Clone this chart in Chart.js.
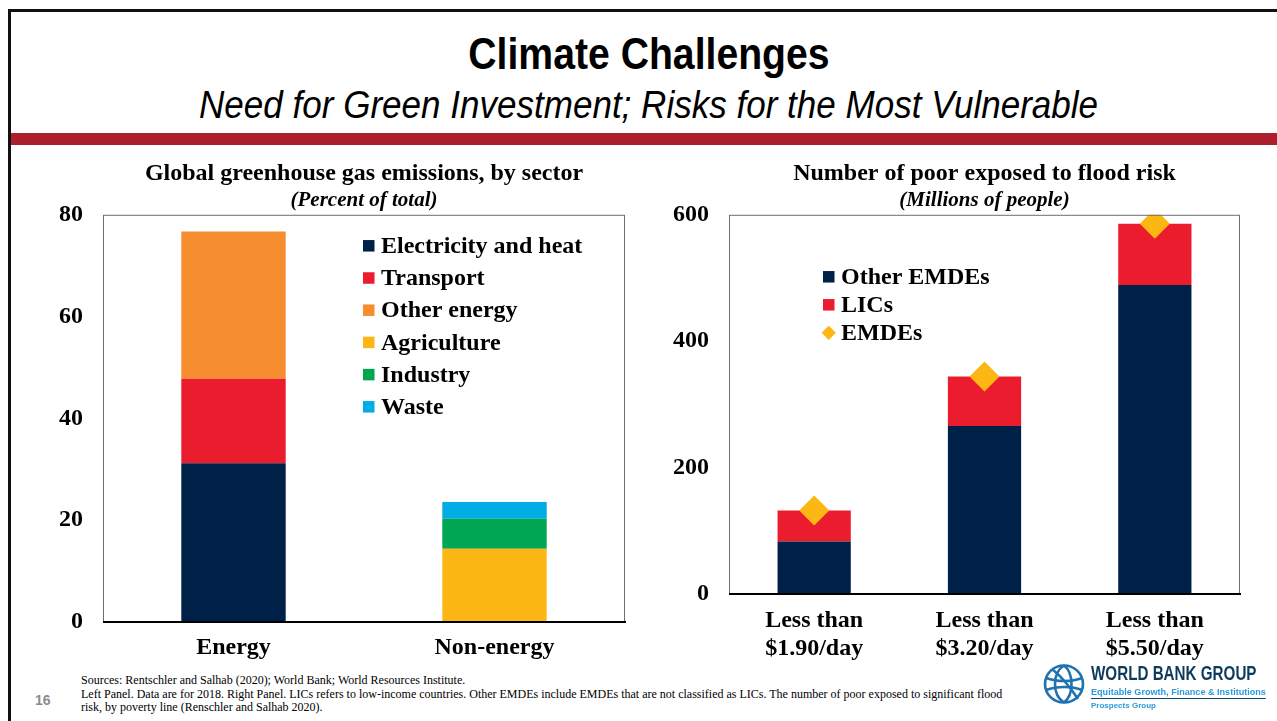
<!DOCTYPE html>
<html lang="en">
<head>
    <meta charset="UTF-8">
    <title>Climate Challenges</title>
    <script src="https://cdn.jsdelivr.net/npm/chart.js@4.4.1/dist/chart.umd.min.js"></script>
    <style>
        html, body { margin: 0; padding: 0; background: #fff; }
        body { width: 1277px; height: 721px; position: relative; overflow: hidden; }
        .frame-top { position: absolute; left: 8px; top: 9px; width: 1269px; height: 3px; background: #111; }
        .frame-left { position: absolute; left: 8px; top: 9px; width: 3px; height: 712px; background: #111; }
        .band { position: absolute; left: 11px; top: 133px; width: 1266px; height: 12px; background: #ac1f2d; }
        .title, .subtitle { position: absolute; left: 0; width: 1297px; text-align: center; color: #000;
            font-family: "Liberation Sans", Arial, sans-serif; }
        .title { top: 26px; font-weight: bold; font-size: 44px; line-height: 56px; }
        .subtitle { top: 81px; font-style: italic; font-size: 38px; line-height: 48px; }
        .title span, .subtitle span { display: inline-block; white-space: nowrap; }
        .title span { transform: scaleX(0.89); }
        .subtitle span { transform: scaleX(0.922); }
        .plot { position: absolute; top: 160px; height: 512px; }
        #boxL { left: 28px; width: 640px; }
        #boxR { left: 640px; width: 637px; }
        .notes {
            position: absolute; left: 81px; top: 674px; width: 930px;
            font-family: "Liberation Serif", "Times New Roman", serif; font-size: 12px; line-height: 13.5px; color: #000;
        }
        .pageno {
            position: absolute; left: 35px; top: 692px;
            font-family: "Liberation Sans", Arial, sans-serif; font-weight: bold; font-size: 14px; color: #8c8c8c;
        }
        .logo { position: absolute; left: 1040px; top: 662px; width: 237px; height: 50px; }
        .logo svg { position: absolute; left: 2px; top: 1px; }
        .wbg {
            position: absolute; left: 51px; top: 1px; white-space: nowrap;
            font-family: "Liberation Sans", Arial, sans-serif; font-weight: bold; font-size: 20px; line-height: 21px;
            color: #0e3a5b; transform: scaleX(0.76); transform-origin: 0 0;
        }
        .egfi {
            position: absolute; left: 51px; top: 24px; white-space: nowrap;
            font-family: "Liberation Sans", Arial, sans-serif; font-weight: bold; font-size: 9.5px; line-height: 11px; color: #2a9bd8;
            border-bottom: 1.5px solid #14456b; padding-bottom: 1px;
            transform: scaleX(0.955); transform-origin: 0 0;
        }
        .pg {
            position: absolute; left: 51px; top: 39px; white-space: nowrap;
            font-family: "Liberation Sans", Arial, sans-serif; font-weight: bold; font-size: 8px; line-height: 9px; color: #2a9bd8;
        }
    </style>
</head>
<body>
    <div class="frame-top"></div>
    <div class="frame-left"></div>
    <div class="title"><span>Climate Challenges</span></div>
    <div class="subtitle"><span>Need for Green Investment; Risks for the Most Vulnerable</span></div>
    <div class="band"></div>

    <div class="plot" id="boxL"><canvas id="chartL"></canvas></div>
    <div class="plot" id="boxR"><canvas id="chartR"></canvas></div>

    <div class="pageno">16</div>
    <div class="notes">
        Sources: Rentschler and Salhab (2020); World Bank; World Resources Institute.<br>
        Left Panel. Data are for 2018. Right Panel. LICs refers to low-income countries. Other EMDEs include EMDEs that are not classified as LICs. The number of poor exposed to significant flood risk, by poverty line (Renschler and Salhab 2020).
    </div>
    <div class="logo">
        <svg width="44" height="42" viewBox="0 0 44 42">
            <g fill="none" stroke="#1f73b0" stroke-width="2.6">
                <ellipse cx="22" cy="21" rx="19" ry="18.5"/>
                <path d="M22 2.5 C10 10, 10 32, 22 39.5"/>
                <path d="M22 2.5 C32 10, 32 32, 22 39.5"/>
                <path d="M4 15 C15 19, 30 19, 40 15"/>
                <path d="M4 27 C15 23, 30 23, 40 27"/>
                <path d="M10 6 C20 14, 28 24, 36 36"/>
            </g>
        </svg>
        <div class="wbg">WORLD BANK GROUP</div>
        <div class="egfi">Equitable Growth, Finance &amp; Institutions</div>
        <div class="pg">Prospects Group</div>
    </div>

    <script>
        // 왼쪽: 부문별 온실가스 배출 (전체 대비 %)
        const sectorCats = ['Energy', 'Non-energy'];
        const elecHeat = [31.2, null];
        const transport = [16.6, null];
        const otherEnergy = [28.9, null];
        const agriculture = [null, 14.4];
        const industry = [null, 5.9];
        const waste = [null, 3.3];
        const sectorTicks = [0, 20, 40, 60, 80];

        // 오른쪽: 홍수 위험에 노출된 빈곤층 (백만 명)
        const povertyCats = [['Less than', '$1.90/day'], ['Less than', '$3.20/day'], ['Less than', '$5.50/day']];
        const otherEmdes = [83, 266, 489];
        const lics = [49, 78, 97];
        const emdes = [132, 344, 586];
        const floodTicks = [0, 200, 400, 600];

        const SERIF = '"Liberation Serif", "Times New Roman", serif';
        const NAVY = '#002147', RED = '#eb1c2d', ORANGE = '#f68d2e', YELLOW = '#fdb714', GREEN = '#00a651', CYAN = '#00ade4';

        // 차트 영역 테두리 + 아래 축선
        const frameBox = {
            id: 'frameBox',
            afterDatasetsDraw(chart) {
                const {ctx, chartArea: a} = chart;
                ctx.save();
                ctx.strokeStyle = '#6f6f6f';
                ctx.lineWidth = 1;
                ctx.strokeRect(a.left + 0.5, a.top + 0.5, a.right - a.left - 1, a.bottom - a.top);
                ctx.strokeStyle = '#000';
                ctx.lineWidth = 2;
                ctx.beginPath();
                ctx.moveTo(a.left, a.bottom);
                ctx.lineTo(a.right + 1, a.bottom);
                ctx.stroke();
                ctx.restore();
            }
        };

        // 차트 안쪽 범례
        const boxLegend = {
            id: 'boxLegend',
            afterDraw(chart, args, opts) {
                const {ctx, chartArea} = chart;
                ctx.save();
                ctx.font = opts.font;
                ctx.textBaseline = 'middle';
                chart.data.datasets.forEach((ds, i) => {
                    const x = chartArea.left + opts.x;
                    const y = chartArea.top + opts.y + i * opts.gap;
                    ctx.fillStyle = ds.backgroundColor;
                    if (ds.type === 'line') {
                        const r = opts.size * 0.62;
                        const cx = x + opts.size / 2;
                        ctx.beginPath();
                        ctx.moveTo(cx, y - r);
                        ctx.lineTo(cx + r, y);
                        ctx.lineTo(cx, y + r);
                        ctx.lineTo(cx - r, y);
                        ctx.closePath();
                        ctx.fill();
                    } else {
                        ctx.fillRect(x, y - opts.size / 2, opts.size, opts.size);
                    }
                    ctx.fillStyle = '#000';
                    ctx.fillText(ds.label, x + opts.textGap, y + 1);
                });
                ctx.restore();
            }
        };

        function barSet(label, data, color) {
            return { label: label, data: data, backgroundColor: color, borderWidth: 0, stack: 'a', order: 1 };
        }

        function baseOptions(title, sub, ticks, yWidth, xHeight, xPad, legendOpts) {
            return {
                responsive: true,
                maintainAspectRatio: false,
                animation: false,
                devicePixelRatio: 1,
                layout: { padding: { top: 0, right: 0, bottom: 0, left: 0 } },
                plugins: {
                    legend: { display: false },
                    tooltip: { enabled: false },
                    title: {
                        display: true, text: title, fullSize: false, color: '#000',
                        font: { family: SERIF, size: 24, weight: 'bold', lineHeight: 1.15 },
                        padding: { top: 0, bottom: 0 }
                    },
                    subtitle: {
                        display: true, text: sub, fullSize: false, color: '#000',
                        font: { family: SERIF, size: 21, weight: 'bold', style: 'italic', lineHeight: 1.2 },
                        padding: { top: 0, bottom: 2 }
                    },
                    boxLegend: legendOpts
                },
                scales: {
                    x: {
                        stacked: true,
                        grid: { display: false, drawTicks: false },
                        border: { display: false },
                        ticks: { color: '#000', font: { family: SERIF, size: 24, weight: 'bold', lineHeight: 1.15 }, padding: xPad, maxRotation: 0 },
                        afterFit: s => { s.height = xHeight; }
                    },
                    y: {
                        stacked: true,
                        min: ticks[0],
                        max: ticks[ticks.length - 1],
                        afterBuildTicks: s => { s.ticks = ticks.map(v => ({ value: v })); },
                        grid: { display: false, drawTicks: false },
                        border: { display: false },
                        ticks: { color: '#000', font: { family: SERIF, size: 24, weight: 'bold' }, padding: 20 },
                        afterFit: s => { s.width = yWidth; }
                    }
                }
            };
        }

        new Chart(chartL, {
            type: 'bar',
            data: {
                labels: sectorCats,
                datasets: [
                    barSet('Electricity and heat', elecHeat, NAVY),
                    barSet('Transport', transport, RED),
                    barSet('Other energy', otherEnergy, ORANGE),
                    barSet('Agriculture', agriculture, YELLOW),
                    barSet('Industry', industry, GREEN),
                    barSet('Waste', waste, CYAN)
                ].map(d => Object.assign(d, { categoryPercentage: 1, barPercentage: 0.4 }))
            },
            options: (() => {
                const o = baseOptions('Global greenhouse gas emissions, by sector', '(Percent of total)', sectorTicks, 75, 50, 12,
                    { x: 260, y: 31, gap: 32.2, size: 11.5, textGap: 18, font: 'bold 24px ' + SERIF });
                o.layout.padding.right = 43;
                return o;
            })(),
            plugins: [frameBox, boxLegend]
        });

        new Chart(chartR, {
            type: 'bar',
            data: {
                labels: povertyCats,
                datasets: [
                    barSet('Other EMDEs', otherEmdes, NAVY),
                    barSet('LICs', lics, RED),
                    {
                        type: 'line', label: 'EMDEs', data: emdes, stack: 'b', order: 0,
                        backgroundColor: YELLOW, borderColor: YELLOW, showLine: false,
                        pointStyle: 'rectRot', pointRadius: 15, pointBorderWidth: 0
                    }
                ].map(d => d.type === 'line' ? d : Object.assign(d, { categoryPercentage: 1, barPercentage: 0.43 }))
            },
            options: (() => {
                const o = baseOptions('Number of poor exposed to flood risk', '(Millions of people)', floodTicks, 89, 78, 13,
                    { x: 94, y: 62, gap: 28, size: 11.5, textGap: 18, font: 'bold 24px ' + SERIF });
                o.layout.padding.right = 37;
                return o;
            })(),
            plugins: [frameBox, boxLegend]
        });
    </script>
</body>
</html>
